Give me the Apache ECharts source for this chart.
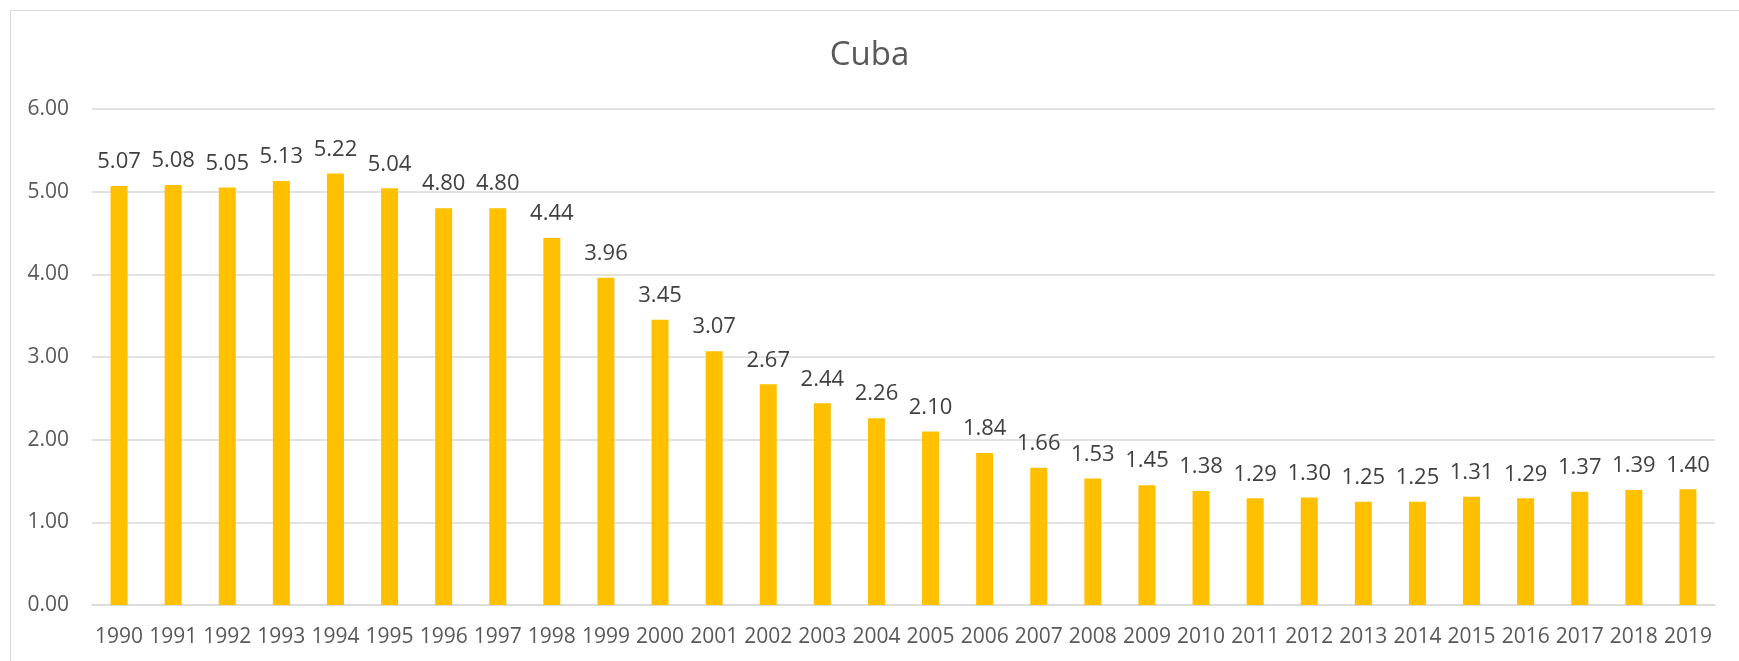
<!DOCTYPE html>
<html>
<head>
<meta charset="utf-8">
<script src="https://cdn.jsdelivr.net/npm/echarts@6/dist/echarts.min.js"></script>
<style>
  html, body { margin: 0; padding: 0; background: #fff; }
  #chart { width: 1739px; height: 661px; }
</style>
</head>
<body>
<div id="chart"></div>
<script>
const years = ['1990','1991','1992','1993','1994','1995','1996','1997','1998','1999',
  '2000','2001','2002','2003','2004','2005','2006','2007','2008','2009',
  '2010','2011','2012','2013','2014','2015','2016','2017','2018','2019']
const values = [5.07, 5.08, 5.05, 5.13, 5.22, 5.04, 4.80, 4.80, 4.44, 3.96,
  3.45, 3.07, 2.67, 2.44, 2.26, 2.10, 1.84, 1.66, 1.53, 1.45,
  1.38, 1.29, 1.30, 1.25, 1.25, 1.31, 1.29, 1.37, 1.39, 1.40]
const titleText = 'Cuba'

const FONT = '"Open Sans", "Noto Sans", sans-serif'
const chart = echarts.init(document.getElementById('chart'))

chart.setOption({
  backgroundColor: '#ffffff',
  animation: false,
  graphic: [{
    type: 'rect',
    silent: true,
    shape: { x: 10.5, y: 10.5, width: 1800, height: 700 },
    style: { fill: 'none', stroke: '#d9d9d9', lineWidth: 1 },
  }],
  title: {
    text: titleText,
    left: 'center',
    top: 34,
    textStyle: { color: '#595959', fontSize: 33, fontWeight: 'normal', fontFamily: FONT },
  },
  grid: { left: 92, right: 24, top: 109, bottom: 56, containLabel: false },
  xAxis: {
    type: 'category',
    data: years,
    axisLine: { lineStyle: { color: '#d9d9d9', width: 1.5 } },
    axisTick: { show: false },
    axisLabel: { color: '#595959', fontSize: 21, fontFamily: FONT, margin: 22, interval: 0 },
  },
  yAxis: {
    type: 'value',
    min: 0,
    max: 6,
    interval: 1,
    axisLine: { show: false },
    axisTick: { show: false },
    axisLabel: {
      color: '#595959', fontSize: 21, fontFamily: FONT, margin: 23,
      formatter: v => v.toFixed(2),
    },
    splitLine: { lineStyle: { color: '#d9d9d9', width: 1.5 } },
  },
  series: [{
    type: 'bar',
    data: values,
    barWidth: 17,
    itemStyle: { color: '#ffc000' },
    label: {
      show: true,
      position: 'top',
      distance: 13,
      color: '#404040',
      fontSize: 22,
      fontFamily: FONT,
      formatter: p => p.value.toFixed(2),
    },
  }],
})
</script>
</body>
</html>
